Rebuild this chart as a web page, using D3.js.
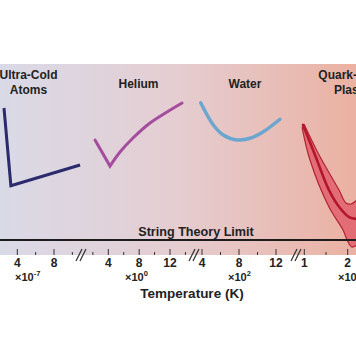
<!DOCTYPE html>
<html><head><meta charset="utf-8">
<script src="https://cdn.jsdelivr.net/npm/d3@7"></script>
<style>
html,body{margin:0;padding:0;background:#fff;}
svg{display:block;}
text{font-family:"Liberation Sans",Arial,sans-serif;font-weight:bold;fill:#222;}
</style></head>
<body>
<script>
// ---------- data ----------
// broken temperature axis: four segments, each with its own multiplier
const segDomains   = [[4, 8], [4, 12], [4, 12], [1, 2]];
const segTicks     = [[4, 6, 8, 10], [2, 4, 6, 8, 10, 12, 14], [4, 6, 8, 10, 12], [1, 1.5, 2]];
const segLabels    = [[4, 8], [4, 8, 12], [4, 8, 12], [1, 2]];
const segExponents = ["-7", "0", "2", "12"];

const categories = ["Ultra-Cold Atoms", "Helium", "Water", "Quark-Gluon Plasma"];

// viscosity / entropy curves (arbitrary units, string limit = 1)
const stringLimit = 1;
const ultraColdX = [2.55, 3.3, 10.84];
const ultraColdY = [9.8, 4.62, 6.0];
const heliumX = [2.28, 4.22, 5.52, 7.2, 9.41, 11.61, 13.56];
const heliumY = [7.67, 5.93, 6.87, 7.8, 8.8, 9.53, 10.13];
const waterX = [3.86, 5.22, 6.30, 7.75, 9.19, 10.63, 12.43];
const waterY = [10.15, 8.67, 8.0, 7.67, 7.78, 8.22, 9.05];
const qgpX      = [0.97, 1.247, 1.569, 1.823, 2.03, 2.237];
const qgpY      = [8.67, 6.67, 4.33, 3.13, 2.53, 2.4];
const qgpUpperX = [0.993, 1.316, 1.80, 1.961, 2.076, 2.237];
const qgpUpperY = [8.73, 6.8, 4.33, 3.47, 3.4, 3.73];
const qgpLowerX = [0.947, 1.131, 1.569, 1.892, 2.007, 2.099, 2.237];
const qgpLowerY = [8.53, 6.33, 3.2, 1.67, 0.87, 0.53, 0.73];

// ---------- layout ----------
const W = 356, H = 364;
const plotTop = 64, plotBottom = 255;
const segRanges = [[17.3, 54], [108.3, 170], [202, 276], [304.3, 347.7]];
const breaks = [81, 194, 296];
const expStart = [15, 125, 228, 338];

const svg = d3.select("body").append("svg").attr("width", W).attr("height", H);
const defs = svg.append("defs");
const grad = defs.append("linearGradient").attr("id", "bg").attr("x1", 0).attr("x2", 1).attr("y1", 0).attr("y2", 0);
grad.append("stop").attr("offset", "0%").attr("stop-color", "#d9dae7");
grad.append("stop").attr("offset", "50%").attr("stop-color", "#e5cdd1");
grad.append("stop").attr("offset", "100%").attr("stop-color", "#ebb1a2");
defs.append("clipPath").attr("id", "clip").append("rect")
  .attr("x", 0).attr("y", plotTop).attr("width", W).attr("height", plotBottom - plotTop);

svg.append("rect").attr("x", 0).attr("y", plotTop).attr("width", W).attr("height", plotBottom - plotTop)
  .attr("fill", "url(#bg)");

const xs = segDomains.map((d, i) => d3.scaleLinear().domain(d).range(segRanges[i]));
const y = d3.scaleLinear().domain([0, 12]).range([plotBottom, plotBottom - 180]);

const g = svg.append("g").attr("clip-path", "url(#clip)");

function pts(X, Y, s) { return X.map((v, i) => [xs[s](v), y(Y[i])]); }

// quark-gluon plasma band
const curve = d3.line().curve(d3.curveCatmullRom.alpha(0.5));
const upper = pts(qgpUpperX, qgpUpperY, 3);
const lower = pts(qgpLowerX, qgpLowerY, 3);
g.append("path").attr("d", curve(upper.concat(lower.slice().reverse())) + "Z")
  .attr("fill", "#e2606d").attr("fill-opacity", 0.85);
g.append("path").attr("d", curve(upper)).attr("fill", "none").attr("stroke", "#b42234").attr("stroke-width", 1.2);
g.append("path").attr("d", curve(lower)).attr("fill", "none").attr("stroke", "#b42234").attr("stroke-width", 1.2);
g.append("path").attr("d", curve(pts(qgpX, qgpY, 3))).attr("fill", "none")
  .attr("stroke", "#b3172d").attr("stroke-width", 2.6).attr("stroke-linecap", "round");

// string theory limit
svg.append("line").attr("x1", 0).attr("x2", W).attr("y1", y(stringLimit)).attr("y2", y(stringLimit))
  .attr("stroke", "#1c1c1c").attr("stroke-width", 2);
svg.append("text").attr("x", 196).attr("y", y(stringLimit) - 4).attr("text-anchor", "middle")
  .attr("font-size", 12.6).text("String Theory Limit");

// other curves
g.append("path").attr("d", d3.line()(pts(ultraColdX, ultraColdY, 0))).attr("fill", "none")
  .attr("stroke", "#2b2a6c").attr("stroke-width", 3).attr("stroke-linejoin", "miter");
const heP = pts(heliumX, heliumY, 1);
// helium: straight falling leg into a sharp minimum, then a smooth rise
g.append("path").attr("d", d3.line()(heP.slice(0, 2)) + curve(heP.slice(1)).replace(/^M[^C]*/, "")).attr("fill", "none")
  .attr("stroke", "#a44c9d").attr("stroke-width", 3).attr("stroke-linecap", "round").attr("stroke-linejoin", "miter");
g.append("path").attr("d", curve(pts(waterX, waterY, 2))).attr("fill", "none")
  .attr("stroke", "#6ca6cf").attr("stroke-width", 3.5).attr("stroke-linecap", "round");

// category labels
const catPos = [[28.5, 79], [138.5, 88], [245, 88], [355, 79]];
const catLines = [["Ultra-Cold", "Atoms"], ["Helium"], ["Water"], ["Quark-Gluon", "Plasma"]];
categories.forEach((c, i) => {
  const t = svg.append("text").attr("x", catPos[i][0]).attr("y", catPos[i][1]).attr("text-anchor", "middle").attr("font-size", 12);
  catLines[i].forEach((l, j) => t.append("tspan").attr("x", catPos[i][0]).attr("dy", j ? 15 : 0).text(l));
});

// axis ticks & labels
xs.forEach((s, i) => {
  segTicks[i].forEach(v => {
    const major = segLabels[i].includes(v);
    svg.append("line").attr("x1", s(v)).attr("x2", s(v)).attr("y1", plotBottom - (major ? 6 : 3)).attr("y2", plotBottom)
      .attr("stroke", "#333").attr("stroke-width", 1);
  });
  segLabels[i].forEach(v => {
    svg.append("text").attr("x", s(v)).attr("y", 267).attr("text-anchor", "middle").attr("font-size", 12)
      .text(d3.format("~g")(v));
  });
  const t = svg.append("text").attr("x", expStart[i]).attr("y", 281).attr("font-size", 11);
  t.append("tspan").text("\u00d710");
  t.append("tspan").attr("dy", -5).attr("font-size", 7.5).text(segExponents[i]);
});

// axis breaks
breaks.forEach(b => {
  [-2, 2].forEach(o => {
    svg.append("line").attr("x1", b + o - 3).attr("x2", b + o + 3).attr("y1", 261).attr("y2", 249)
      .attr("stroke", "#333").attr("stroke-width", 1.2);
  });
});

svg.append("text").attr("x", 192).attr("y", 298).attr("text-anchor", "middle").attr("font-size", 13.5)
  .text("Temperature (K)");
</script>
</body></html>
